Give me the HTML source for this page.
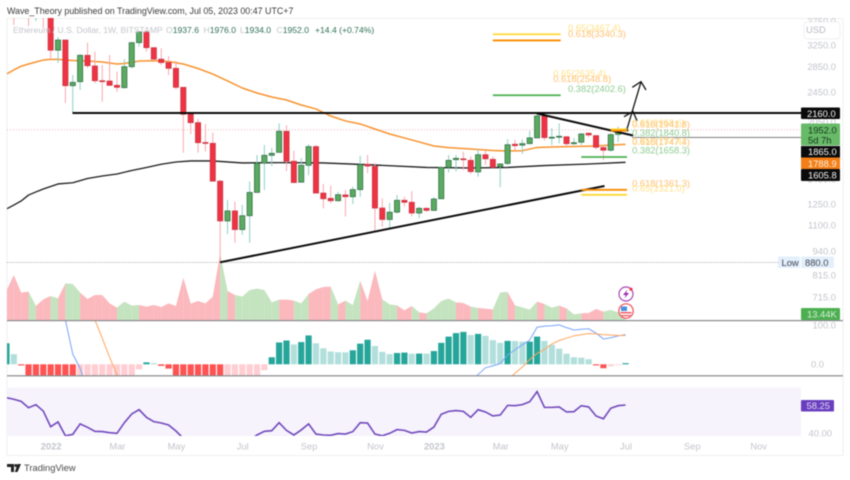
<!DOCTYPE html>
<html lang="en">
<head>
<meta charset="utf-8">
<title>ETHUSD weekly chart</title>
<style>
html,body{margin:0;padding:0;background:#fff;width:850px;height:480px;overflow:hidden}
svg{display:block;filter:blur(.45px)}
text{font-family:"Liberation Sans",sans-serif}
</style>
</head>
<body>
<svg id="chart" width="850" height="480" viewBox="0 0 850 480" xmlns="http://www.w3.org/2000/svg">
  <defs>
    <clipPath id="clip-price"><rect x="7" y="18" width="794" height="302"/></clipPath>
    <clipPath id="clip-macd"><rect x="7" y="321" width="794" height="54.5"/></clipPath>
    <clipPath id="clip-rsi"><rect x="7" y="388" width="794" height="48"/></clipPath>
  </defs>
  <text x="7" y="14" font-size="8.88" fill="#3a3a3a">Wave_Theory published on TradingView.com, Jul 05, 2023 00:47 UTC+7</text>
  <rect x="7" y="18.5" width="836" height="437" fill="none" stroke="#f0f0f2"/>
  <rect x="7" y="387.7" width="794" height="48.3" fill="#f6f3fc"/>
  <g id="g-grid"></g>
  <g id="g-volume" clip-path="url(#clip-price)"></g>
  <g id="g-macd" clip-path="url(#clip-macd)"></g>
  <g id="g-rsi" clip-path="url(#clip-rsi)"></g>
  <g id="g-ma" clip-path="url(#clip-price)"></g>
  <g id="g-candles" clip-path="url(#clip-price)"></g>
  <g id="g-draw" clip-path="url(#clip-price)"></g>
  <g id="g-fib"></g>
  <rect x="7" y="320" width="836" height="1.2" fill="#8a8a8e"/>
  <rect x="7" y="375.2" width="836" height="1.2" fill="#8a8a8e"/>
  <g id="g-axis"></g>

  <g font-size="8.6">
    <text x="13" y="33" fill="#c4c5cb">Ethereum / U.S. Dollar, 1W, BITSTAMP</text>
    <text x="166" y="33" fill="#c4c5cb">O<tspan fill="#2f6f55">1937.6</tspan></text>
    <text x="203.5" y="33" fill="#c4c5cb">H<tspan fill="#2f6f55">1976.0</tspan></text>
    <text x="240" y="33" fill="#c4c5cb">L<tspan fill="#2f6f55">1934.0</tspan></text>
    <text x="276.5" y="33" fill="#c4c5cb">C<tspan fill="#2f6f55">1952.0</tspan></text>
    <text x="315" y="33" fill="#2f6f55">+14.4 (+0.74%)</text>
  </g>

  <g>
    <rect x="804" y="22" width="36" height="17" rx="3" fill="#fff" stroke="#f0f0f2"/>
    <text x="806" y="33" font-size="9.4" fill="#b8bac2">USD</text>
  </g>

  <g font-size="9.4">
    <rect x="801" y="107.5" width="39" height="11.5" rx="1" fill="#0b0b0b"/>
    <text x="807" y="116.8" fill="#f4f4f4">2160.0</text>
    <rect x="801" y="123.5" width="39" height="22" rx="1" fill="#68ba68"/>
    <text x="808" y="133.5" fill="#123a1c">1952.0</text>
    <text x="808" y="143.5" fill="#123a1c">5d 7h</text>
    <rect x="801" y="146" width="39" height="11.5" fill="#0b0b0b"/>
    <text x="808" y="155.2" fill="#f4f4f4">1865.0</text>
    <rect x="801" y="157.5" width="39" height="11.5" fill="#f57f17"/>
    <text x="808" y="166.8" fill="#f8f0e0">1788.9</text>
    <rect x="801" y="169" width="39" height="12" rx="1" fill="#0b0b0b"/>
    <text x="808" y="178.6" fill="#f4f4f4">1605.8</text>
    <rect x="778" y="256.5" width="22" height="11.5" rx="1" fill="#e4effc"/>
    <text x="781.5" y="265.8" fill="#3f4450">Low</text>
    <rect x="801" y="256.5" width="33" height="11.5" rx="1" fill="#e4effc"/>
    <text x="805" y="265.8" fill="#3f4450">880.0</text>
    <rect x="801" y="308" width="39" height="12" rx="1" fill="#4caf50"/>
    <text x="807" y="317.4" fill="#d8f0d8">13.44K</text>
    <rect x="801" y="400" width="33" height="11.5" rx="1" fill="#6a3fbf"/>
    <text x="806.5" y="409.2" fill="#e0d8f4">58.25</text>
  </g>

  <g>
    <circle cx="626" cy="294" r="7" fill="#fff" stroke="#ab47bc" stroke-width="1.2"/>
    <polygon points="627.5,289.5 623,295 625.8,295 624.5,298.5 629,293 626.2,293" fill="#9c27b0"/>
    <circle cx="631" cy="289.2" r="1.6" fill="#f23645"/>
    <circle cx="626" cy="311" r="7.2" fill="#fff" stroke="#f0505a" stroke-width="1.2"/>
    <rect x="621" y="306.5" width="6" height="4.5" fill="#4a90e2"/>
    <rect x="620.5" y="312" width="11" height="1.4" fill="#f0505a"/>
    <rect x="621.5" y="315" width="9" height="1.2" fill="#f0505a"/>
  </g>

  <g>
    <polygon points="7,464 14,464 14,472 11,472 11,467 7,467" fill="#222"/>
    <circle cx="15.8" cy="465.5" r="1.5" fill="#222"/>
    <polygon points="17.5,464 21,464 17.5,472 14.8,472" fill="#222"/>
    <text x="24" y="471.2" font-size="9.4" fill="#4a4a4a">TradingView</text>
  </g>
</svg>
<script>
// ---- Chart data (weekly, first entry is the week just left of the visible range) ----
const firstWeek = -1;
const opens = [4200,4400,4100,4100,3900,4100,3950,3150,3349,2545,2607,3055,2865,2622,2617,2551,2515,2853,3296,3514,3198,2985,2925,2825,2520,2143,2038,1809,1800,1434,1129,1199,1072,1165,1340,1597,1675,1705,1935,1616,1425,1577,1765,1335,1293,1275,1320,1306,1363,1587,1567,1220,1139,1190,1278,1263,1184,1218,1203,1290,1558,1632,1640,1625,1516,1681,1635,1565,1595,1790,1780,1797,1860,2121,1860,1867,1872,1796,1812,1912,1885,1755,1727,1899,1937.6];
const highs = [4300,4500,4200,4200,4200,4200,4000,3410,3349,2714,3079,3296,3122,2882,3060,2768,2985,3310,3535,3530,3198,3187,3042,2956,2520,2143,2084,2022,1920,1445,1280,1268,1243,1430,1678,1782,1750,2030,2005,1723,1649,1790,1782,1410,1396,1345,1360,1388,1670,1678,1597,1293,1258,1320,1306,1351,1230,1225,1303,1565,1678,1678,1712,1663,1737,1725,1663,1597,1845,1837,1845,1940,2155,2121,1972,2030,1880,1857,1915,1923,1893,1782,1912,1990,1976];
const lows = [4000,3665,3900,3640,3753,3600,2985,2917,2294,2164,2481,2830,2582,2312,2540,2454,2505,2825,3218,3122,2985,2882,2714,2490,1702,1904,1702,1712,1434,880,1044,990,1038,990,1350,1360,1570,1705,1524,1422,1425,1486,1335,1218,1255,1268,1160,1250,1306,1505,1068,1090,1083,1182,1230,1160,1148,1193,1199,1290,1510,1520,1534,1497,1473,1580,1552,1383,1580,1723,1688,1790,1857,1830,1782,1800,1765,1782,1782,1868,1735,1628,1712,1815,1934];
const closes = [4100,3850,4000,3900,4100,3950,3150,3349,2545,2597,3055,2870,2622,2612,2551,2520,2853,3296,3514,3198,2985,2925,2825,2520,2143,2038,1807,1807,1434,1129,1199,1072,1165,1340,1597,1675,1695,1935,1616,1422,1577,1765,1335,1290,1275,1322,1306,1363,1583,1570,1220,1139,1190,1278,1263,1184,1218,1203,1288,1558,1625,1645,1632,1519,1681,1640,1558,1590,1785,1775,1797,1860,2121,1863,1867,1878,1796,1807,1904,1893,1758,1727,1897,1935,1952];
const volumesK = [88,135,82,85,42,62,72,65,110,108,82,63,75,75,50,37,55,43,45,40,45,39,50,42,127,49,57,50,70,200,87,75,70,90,94,90,53,61,61,58,50,78,92,99,100,47,58,45,118,57,148,62,47,44,29,42,23,20,35,57,64,53,51,40,36,34,32,83,84,44,38,31,55,48,37,43,35,17,20,21,33,25,30,23,13.44];
const macdHist = [54,26,-3,-40,-60,-80,-100,-120,-140,-155,-150,-140,-125,-110,-95,-80,-60,-40,-13,5,3,-4,-11,-30,-45,-60,-75,-90,-105,-120,-110,-90,-75,-55,-35,-15,18,56,61,51,57,74,54,41,33,31,30.8,36,53,63,47,32,26,29,30,27,27.5,27.4,34,55,71,80,83,75,78,73,62,55,60,59.8,58,58.1,71,60,50,40,27,18,17,13,-3,-10,-5,-2,3];
const rsiValues = [63,62,60.6,56.5,58.5,54.3,44.1,47.2,38.2,39.1,45.9,43.7,41.1,40.9,40.2,39.8,46.7,52.4,55.2,50.2,47.4,46.5,45.2,41.3,36.5,32,31,30,28,25,27,27,28,35.4,38.7,41.1,41.5,46.7,41.7,38.7,42,45.9,39.3,38.7,38.5,39.6,39.3,40.9,46.7,46.5,39.3,38.2,39.8,42.2,41.7,40,40.9,40.6,43.9,52.2,54.1,54.6,54.1,50.2,55.2,53.7,51.1,51.7,58,57.8,58.5,60.4,67,56.7,56.7,57,53.7,53.9,57.8,57,51.1,49.3,56.1,57.8,58.25];
const ema50Weeks = [-1,0,1,2,3,4,5,6,7,8,10,12,14,15,17,19,21,23,25,27,29,31,33,35,37,39,41,43,45,47,49,51,53,55,57,59,62,65,67,69,71,73,76,79,81,83];
const ema50Values = [2730,2797,2861,2899,2934,2969,2982,2982,2969,2960,2951,2934,2899,2908,2951,2957,2943,2899,2822,2730,2618,2510,2436,2378,2335,2266,2213,2121,2059,2022,1962,1904,1859,1815,1771,1754,1740,1724,1719,1722,1756,1760,1766,1771,1782,1789];
const ema200Weeks = [-1,0,1,2,3,4,5,6,8,10,12,14,16,18,20,22,24,27,31,36,42,48,56,62,67,72,78,83];
const ema200Values = [1213,1242,1273,1319,1344,1368,1389,1410,1420,1457,1479,1497,1529,1557,1587,1609,1619,1619,1600,1603,1600,1583,1557,1552,1557,1575,1590,1606];
const macdLineWeeks = [5,6,7,8,9,10,61,62,63,64,65,66,67,68,69,70,71,72,73,74,75,76,77,78,79,80,81,82,83];
const macdLineValues = [500,300,114,26,-10,-70,-70,-44,-26,-9,-4,2,24,37,50,62,95,98,99,101,94,88,90,91,80,65,68,73,76];
const signalWeeks = [10,11,12,13,14,15,66,67,68,69,70,71,72,73,74,75,76,77,78,79,80,81,82,83];
const signalValues = [180,114,67,18,-27,-70,-70,-40,-23,-7,12,28,38,52,61,67,73,76,79,78,76,75,74,74];
const priceTicks = [3750,3250,2850,2450,2050,1450,1250,1100,940,815,715];
const timeTickLabels = ['2022','Mar','May','Jul','Sep','Nov','2023','Mar','May','Jul','Sep','Nov'];
const timeTickWeeks = [5,14,22,31,40,49,57,66,74,83,92,101];
const fibRatios = ['0.65','0.618','0.382','0.65','0.618','0.65','0.618','0.382','0.65','0.618','0.382','0.618','0.65'];
const fibPrices = [3467.4,3340.3,2402.6,2635.4,2548.8,1958.6,1941.8,1840.8,1757.4,1747.4,1658.3,1361.3,1321.0];
const fibStartWeeks = [65,65,65,null,null,81,81,null,null,null,77,77,77];
const fibEndWeeks = [74,74,74,null,null,83,83,null,null,null,83,83,83];
const fibLabelWeeks = [75.2,75.2,75.2,73.2,73.2,83.9,83.9,83.9,83.9,83.9,83.9,83.9,83.9];
const resistancePrice = 2160;
const grayLevelPrice = 1865;
const lastPrice = 1952;
const lowPrice = 880;

// ---- Axis functions ----
function weekX(w){ return 13.8 + 7.37 * w; }
function priceY(p){ return 204 - 166.4 * Math.log(p / 1250); }
function volumeY(v){ return 320 - v / 3; }
function macdY(v){ return 364.3 - v * 0.39; }
function rsiY(v){ return 405 - (v - 58.25) * 1.534; }

const NS = 'http://www.w3.org/2000/svg';
function mk(tag, attrs, parent){
  const el = document.createElementNS(NS, tag);
  for (const k in attrs) el.setAttribute(k, attrs[k]);
  parent.appendChild(el);
  return el;
}
const gGrid = document.getElementById('g-grid');
const gVol = document.getElementById('g-volume');
const gMacd = document.getElementById('g-macd');
const gRsi = document.getElementById('g-rsi');
const gMa = document.getElementById('g-ma');
const gCandles = document.getElementById('g-candles');
const gDraw = document.getElementById('g-draw');
const gFib = document.getElementById('g-fib');
const gAxis = document.getElementById('g-axis');

// reference dotted lines
const lastLine = mk('line', {x1:7, x2:801, y1:priceY(lastPrice), y2:priceY(lastPrice), stroke:'#f5a9ae', 'stroke-width':0.8, 'stroke-dasharray':'1 2'}, gGrid);


const lowLine = mk('line', {x1:7, x2:778, y1:priceY(lowPrice), y2:priceY(lowPrice), stroke:'#8f9096', 'stroke-width':0.8, 'stroke-dasharray':'1 1.2'}, gGrid);



// volume area, each segment coloured by the direction of its closing candle
for (let i = 1; i < volumesK.length; i++) {
  const w0 = firstWeek + i - 1, w1 = firstWeek + i;
  const up = closes[i] >= opens[i];
  const pts = [weekX(w0)+','+volumeY(volumesK[i-1]), weekX(w1)+','+volumeY(volumesK[i]), weekX(w1)+','+volumeY(0), weekX(w0)+','+volumeY(0)].join(' ');
  const seg = mk('polygon', {points:pts, fill: up ? '#c4e3bf' : '#fbb8bd'}, gVol);
  
  
}

// MACD histogram
for (let i = 0; i < macdHist.length; i++) {
  const v = macdHist[i], prev = i > 0 ? macdHist[i-1] : v;
  const rising = v >= prev;
  const color = v >= 0 ? (rising ? '#26a69a' : '#b2dfdb') : (rising ? '#ffcdd2' : '#ff5252');
  const x = weekX(firstWeek + i);
  const y0 = macdY(0), y1 = macdY(v);
  const bar = mk('rect', {x:x-3.1, y:Math.min(y0,y1), width:6.2, height:Math.max(Math.abs(y1-y0),0.8), fill:color}, gMacd);
  
  
}
function linePoints(weeks, values, yFn){
  return weeks.map((w, i) => weekX(w).toFixed(2) + ',' + yFn(values[i]).toFixed(2)).join(' ');
}
const macdLine = mk('polyline', {points:linePoints(macdLineWeeks, macdLineValues, macdY), fill:'none', stroke:'#7aa5fb', 'stroke-width':1}, gMacd);


const signalLine = mk('polyline', {points:linePoints(signalWeeks, signalValues, macdY), fill:'none', stroke:'#ffa65c', 'stroke-width':1}, gMacd);



// RSI
const rsiPts = rsiValues.map((v, i) => weekX(firstWeek + i).toFixed(2) + ',' + rsiY(v).toFixed(2)).join(' ');
const rsiLine = mk('polyline', {points:rsiPts, fill:'none', stroke:'#7249bd', 'stroke-width':1.6}, gRsi);



// candles
for (let i = 0; i < opens.length; i++) {
  const x = weekX(firstWeek + i);
  const up = closes[i] >= opens[i];
  const wick = mk('line', {x1:x, x2:x, y1:priceY(highs[i]), y2:priceY(lows[i]), stroke: up ? '#8ad0c2' : '#f8a6ad', 'stroke-width':1}, gCandles);
  
  
  const top = priceY(Math.max(opens[i], closes[i]));
  const bot = priceY(Math.min(opens[i], closes[i]));
  const body = mk('rect', {x:x-2.6, y:top, width:5.2, height:Math.max(bot-top,0.9), fill: up ? '#5aaa60' : '#ee3344', stroke: up ? '#2d6a45' : '#c8323f', 'stroke-width':0.7}, gCandles);
  
  
}

// moving averages
const ema50 = mk('polyline', {points:linePoints(ema50Weeks, ema50Values, priceY), fill:'none', stroke:'#f7932f', 'stroke-width':1.5, 'stroke-linejoin':'round'}, gMa);


const ema200 = mk('polyline', {points:linePoints(ema200Weeks, ema200Values, priceY), fill:'none', stroke:'#1c1c1c', 'stroke-width':1.3, 'stroke-linejoin':'round'}, gMa);



// drawings (trendlines / levels / arrow)
const resLine = mk('line', {x1:72.5, x2:801, y1:priceY(resistancePrice), y2:priceY(resistancePrice), stroke:'#0a0a0a', 'stroke-width':2}, gDraw);


const grayLine = mk('line', {x1:632, x2:801, y1:priceY(grayLevelPrice), y2:priceY(grayLevelPrice), stroke:'#6e6e72', 'stroke-width':0.9}, gDraw);


const fallTrend = mk('line', {x1:537, y1:113.5, x2:633, y2:135.5, stroke:'#0a0a0a', 'stroke-width':2}, gDraw);


const riseTrend = mk('line', {x1:220, y1:262.3, x2:604.5, y2:186, stroke:'#0a0a0a', 'stroke-width':2}, gDraw);


const arrow = mk('polyline', {points:'626.7,130 641,82', fill:'none', stroke:'#111', 'stroke-width':1.3}, gDraw);


const arrowHead = mk('polyline', {points:'632.3,87.3 641,81.7 646,90', fill:'none', stroke:'#111', 'stroke-width':1.3}, gDraw);


const arrowMid = mk('polyline', {points:'624,116.7 633,111.5 637,120.7', fill:'none', stroke:'#111', 'stroke-width':1.3}, gDraw);



// Fibonacci levels
function fibColor(r){ return r === '0.65' ? '#fdd835' : (r === '0.618' ? '#fb8c00' : '#4caf50'); }
function fibTextColor(r){ return r === '0.65' ? '#ffe28a' : (r === '0.618' ? '#ffc070' : '#8fcc92'); }
for (let i = 0; i < fibPrices.length; i++) {
  const y = priceY(fibPrices[i]);
  if (fibStartWeeks[i] !== null) {
    const ln = mk('line', {x1:weekX(fibStartWeeks[i]), x2:weekX(fibEndWeeks[i]) + 1.5, y1:y, y2:y, stroke:fibColor(fibRatios[i]), 'stroke-width':1.8}, gFib);
    
    
  }
  const lb = mk('text', {x:weekX(fibLabelWeeks[i]), y:y - 3.4, 'font-size':9.3, fill:fibTextColor(fibRatios[i])}, gFib);
  
  
  lb.textContent = fibRatios[i] + '(' + fibPrices[i].toFixed(1) + ')';
}

// price axis ticks
for (let i = 0; i < priceTicks.length; i++) {
  const t = mk('text', {x:836, y:priceY(priceTicks[i]) + 3.3, 'font-size':9.4, fill:'#c3c5cc', 'text-anchor':'end'}, gAxis);
  
  
  t.textContent = priceTicks[i].toFixed(1);
}
const macdTick100 = mk('text', {x:836, y:macdY(100) + 3.3, 'font-size':9.4, fill:'#c3c5cc', 'text-anchor':'end'}, gAxis);


macdTick100.textContent = '100.0';
const macdTick0 = mk('text', {x:824, y:macdY(0) + 3.3, 'font-size':9.4, fill:'#c3c5cc', 'text-anchor':'end'}, gAxis);


macdTick0.textContent = '0.0';
const rsiTick = mk('text', {x:832, y:rsiY(40) + 3.3, 'font-size':9.4, fill:'#c3c5cc', 'text-anchor':'end'}, gAxis);


rsiTick.textContent = '40.00';

// time axis ticks
for (let i = 0; i < timeTickLabels.length; i++) {
  const isYear = timeTickLabels[i].length === 4;
  const t = mk('text', {x:weekX(timeTickWeeks[i]) + 0.5, y:449.5, 'font-size':9.4, fill:'#c3c5cc', 'text-anchor':'middle', 'font-weight': isYear ? 'bold' : 'normal'}, gAxis);
  
  
  t.textContent = timeTickLabels[i];
}
</script>
</body>
</html>
